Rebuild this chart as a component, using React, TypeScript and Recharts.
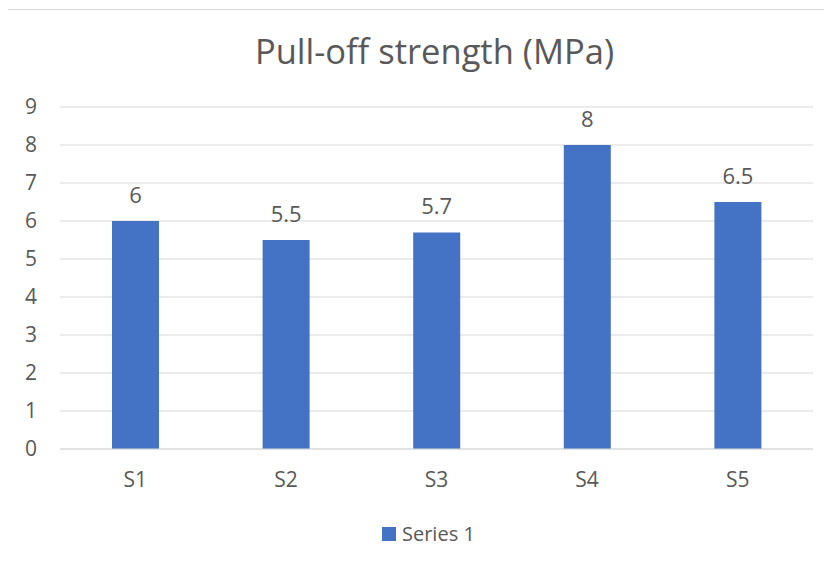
import { BarChart, Bar, XAxis, YAxis, CartesianGrid, Legend, LabelList } from "recharts";

const samples = ["S1", "S2", "S3", "S4", "S5"];
const strength = [6, 5.5, 5.7, 8, 6.5];
const yTicks = [0, 1, 2, 3, 4, 5, 6, 7, 8, 9];
const seriesName = "Series 1";

const FONT = '"Open Sans", sans-serif';
const TEXT = "#595959";
const GRID = "#d9d9d9";
const BAR = "#4472C4";

const data = samples.map((name, i) => ({ name, value: strength[i] }));

function LegendBox() {
  return (
    <div style={{ display: "flex", alignItems: "center", gap: 6, fontFamily: FONT }}>
      <div style={{ width: 14, height: 14, background: BAR }} />
      <span style={{ fontSize: 20, lineHeight: "14px", color: TEXT, whiteSpace: "nowrap" }}>
        {seriesName}
      </span>
    </div>
  );
}

export default function App() {
  return (
    <div
      style={{
        position: "relative",
        left: -1,
        top: 1,
        width: 823,
        height: 551,
        borderLeft: `1px solid ${GRID}`,
        borderTop: `1px solid ${GRID}`,
        background: "#fff",
        overflow: "hidden",
        fontFamily: FONT,
      }}
    >
      <div
        style={{
          position: "absolute",
          top: 24,
          left: 426.5,
          transform: "translateX(-50%)",
          fontSize: 34.5,
          lineHeight: "34px",
          color: TEXT,
          whiteSpace: "nowrap",
        }}
      >
        Pull-off strength (MPa)
      </div>
      <BarChart
        width={823}
        height={551}
        data={data}
        margin={{ top: 97, right: 18, left: 0, bottom: 72 }}
      >
        <CartesianGrid vertical={false} stroke={GRID} />
        <XAxis
          dataKey="name"
          height={40}
          axisLine={{ stroke: GRID }}
          tickLine={false}
          tickMargin={17}
          tick={{ fill: TEXT, fontSize: 21, fontFamily: FONT }}
        />
        <YAxis
          width={52}
          domain={[0, 9]}
          ticks={yTicks}
          interval={0}
          axisLine={false}
          tickLine={false}
          tickMargin={17}
          tick={{ fill: TEXT, fontSize: 21, fontFamily: FONT }}
        />
        <Legend
          layout="horizontal"
          verticalAlign="middle"
          align="center"
          wrapperStyle={{ top: 517, left: 374, width: 200 }}
          content={() => <LegendBox />}
        />
        <Bar dataKey="value" name={seriesName} fill={BAR} barSize={47} isAnimationActive={false}>
          <LabelList
            dataKey="value"
            position="top"
            offset={18}
            fill={TEXT}
            fontSize={22}
            fontFamily={FONT}
          />
        </Bar>
      </BarChart>
    </div>
  );
}
